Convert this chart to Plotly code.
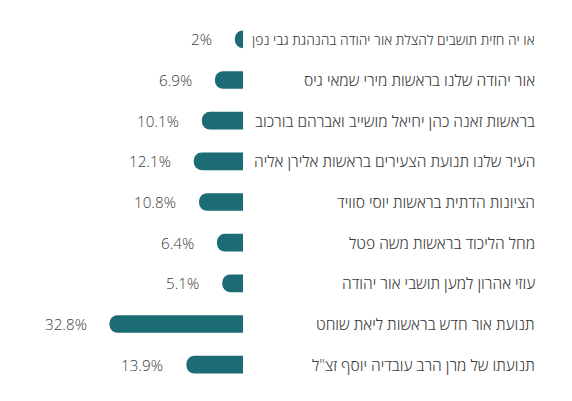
import plotly.graph_objects as go

categories = [
    "או יה חזית תושבים להצלת אור יהודה בהנהגת גבי נפן",
    "אור יהודה שלנו בראשות מירי שמאי גיס",
    "בראשות זאנה כהן יחיאל מושייב ואברהם בורכוב",
    "העיר שלנו תנועת הצעירים בראשות אלירן אליה",
    "הציונות הדתית בראשות יוסי סוויד",
    "מחל הליכוד בראשות משה פטל",
    "עוזי אהרון למען תושבי אור יהודה",
    "תנועת אור חדש בראשות ליאת שוחט",
    "תנועתו של מרן הרב עובדיה יוסף זצ\"ל",
]
values = [2, 6.9, 10.1, 12.1, 10.8, 6.4, 5.1, 32.8, 13.9]
value_labels = ["2%", "6.9%", "10.1%", "12.1%", "10.8%", "6.4%", "5.1%", "32.8%", "13.9%"]

BAR_COLOR = "#1d6b74"
TEXT_COLOR = "#3a3a3a"
FONT = "Open Sans"

W, H = 572, 401
L, R = 10, 329
plot_w = W - L - R


def label_size(text):
    # long labels are shrunk to fit the label column
    return 13.9 if len(text) > 45 else 15.6


fig = go.Figure(
    go.Bar(
        x=values,
        y=categories,
        orientation="h",
        marker=dict(color=BAR_COLOR, line=dict(width=0)),
        hoverinfo="skip",
    )
)

annotations = []
label_x = 1 + (537 - (W - R)) / plot_w
for c in categories:
    annotations.append(dict(
        x=label_x, xref="paper", y=c, yref="y", text=c, showarrow=False,
        xanchor="right", yanchor="middle",
        font=dict(family=FONT, size=label_size(c), color=TEXT_COLOR, weight=300),
    ))
for c, v, t in zip(categories, values, value_labels):
    annotations.append(dict(
        x=v, xref="x", y=c, yref="y", text=t, showarrow=False,
        xanchor="right", yanchor="middle", xshift=-21,
        font=dict(family=FONT, size=15.2, color=TEXT_COLOR, weight=300),
    ))

fig.update_layout(
    width=W, height=H,
    margin=dict(l=L, r=R, t=19, b=16, pad=0),
    paper_bgcolor="white", plot_bgcolor="white",
    showlegend=False,
    bargap=0.565,
    barcornerradius=9,
    annotations=annotations,
    font=dict(family=FONT, color=TEXT_COLOR),
)
fig.update_xaxes(range=[plot_w / 4.07, 0], visible=False, fixedrange=True)
fig.update_yaxes(autorange="reversed", visible=False, fixedrange=True)

fig.write_html(
    "out.html",
    config={"displayModeBar": False},
    post_script="document.body.style.margin='0';document.body.style.overflow='hidden';",
)
